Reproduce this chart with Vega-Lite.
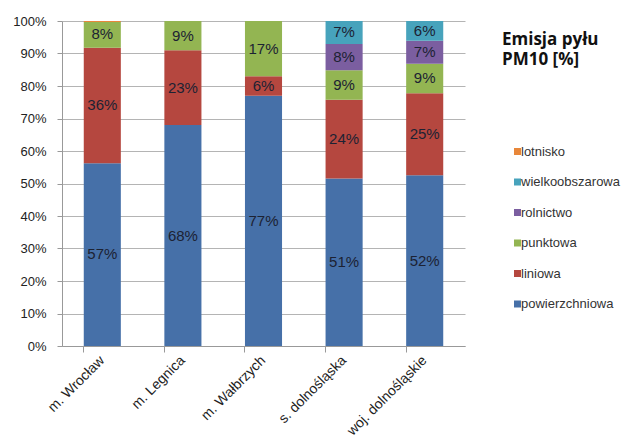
{
  "$schema": "https://vega.github.io/schema/vega-lite/v6.json",
  "autosize": "none",
  "width": 403,
  "height": 325,
  "padding": {"left": 62, "top": 21, "right": 169, "bottom": 94},
  "background": "white",
  "data": {
    "values": [
      {"region": "m. Wrocław", "kategoria": "powierzchniowa", "k": 1, "wartosc": 57},
      {"region": "m. Wrocław", "kategoria": "liniowa", "k": 2, "wartosc": 36},
      {"region": "m. Wrocław", "kategoria": "punktowa", "k": 3, "wartosc": 8},
      {"region": "m. Wrocław", "kategoria": "lotnisko", "k": 6, "wartosc": 0.3},
      {"region": "m. Legnica", "kategoria": "powierzchniowa", "k": 1, "wartosc": 68},
      {"region": "m. Legnica", "kategoria": "liniowa", "k": 2, "wartosc": 23},
      {"region": "m. Legnica", "kategoria": "punktowa", "k": 3, "wartosc": 9},
      {"region": "m. Wałbrzych", "kategoria": "powierzchniowa", "k": 1, "wartosc": 77},
      {"region": "m. Wałbrzych", "kategoria": "liniowa", "k": 2, "wartosc": 6},
      {"region": "m. Wałbrzych", "kategoria": "punktowa", "k": 3, "wartosc": 17},
      {"region": "s. dolnośląska", "kategoria": "powierzchniowa", "k": 1, "wartosc": 51},
      {"region": "s. dolnośląska", "kategoria": "liniowa", "k": 2, "wartosc": 24},
      {"region": "s. dolnośląska", "kategoria": "punktowa", "k": 3, "wartosc": 9},
      {"region": "s. dolnośląska", "kategoria": "rolnictwo", "k": 4, "wartosc": 8},
      {"region": "s. dolnośląska", "kategoria": "wielkoobszarowa", "k": 5, "wartosc": 7},
      {"region": "woj. dolnośląskie", "kategoria": "powierzchniowa", "k": 1, "wartosc": 52},
      {"region": "woj. dolnośląskie", "kategoria": "liniowa", "k": 2, "wartosc": 25},
      {"region": "woj. dolnośląskie", "kategoria": "punktowa", "k": 3, "wartosc": 9},
      {"region": "woj. dolnośląskie", "kategoria": "rolnictwo", "k": 4, "wartosc": 7},
      {"region": "woj. dolnośląskie", "kategoria": "wielkoobszarowa", "k": 5, "wartosc": 6}
    ]
  },
  "config": {
    "font": "Liberation Sans",
    "view": {"stroke": null}
  },
  "encoding": {
    "x": {
      "field": "region",
      "type": "nominal",
      "sort": null,
      "title": null,
      "scale": {"paddingInner": 0.54, "paddingOuter": 0.27},
      "axis": {
        "labelAngle": -45,
        "labelAlign": "right",
        "labelBaseline": "middle",
        "labelFontSize": 14,
        "labelColor": "#222222",
        "labelPadding": 6,
        "bandPosition": 0,
        "tickSize": 6,
        "tickColor": "#999999",
        "domainColor": "#999999",
        "grid": false
      }
    },
    "y": {
      "field": "wartosc",
      "type": "quantitative",
      "stack": "normalize",
      "title": null,
      "axis": {
        "format": ".0%",
        "values": [0, 0.1, 0.2, 0.3, 0.4, 0.5, 0.6, 0.7, 0.8, 0.9, 1],
        "labelOverlap": false,
        "labelFontSize": 13,
        "labelColor": "#222222",
        "labelPadding": 11,
        "tickSize": 5,
        "tickColor": "#999999",
        "domainColor": "#999999",
        "gridColor": "#b4b4b4"
      }
    },
    "order": {"field": "k", "type": "quantitative"}
  },
  "layer": [
    {
      "mark": {"type": "bar"},
      "encoding": {
        "color": {
          "field": "kategoria",
          "type": "nominal",
          "scale": {
            "domain": ["lotnisko", "wielkoobszarowa", "rolnictwo", "punktowa", "liniowa", "powierzchniowa"],
            "range": ["#E8873A", "#47A3BC", "#7B5EA0", "#93B552", "#B5473F", "#4670A8"]
          },
          "legend": {
            "orient": "none",
            "legendX": 440,
            "legendY": 11,
            "title": ["Emisja pyłu", "PM10 [%]"],
            "titleFont": "Open Sans",
            "titleFontSize": 17,
            "titleFontWeight": "bold",
            "titleColor": "#111111",
            "titleLineHeight": 20,
            "titlePadding": 76,
            "symbolType": "square",
            "symbolSize": 49,
            "symbolStrokeWidth": 0,
            "symbolOffset": 9,
            "labelFontSize": 13,
            "labelColor": "#333333",
            "labelOffset": -3,
            "rowPadding": 16.5,
            "padding": 0
          }
        }
      }
    },
    {
      "transform": [
        {"filter": "datum.wartosc >= 1"},
        {"calculate": "datum.wartosc + '%'", "as": "etykieta"}
      ],
      "mark": {"type": "text", "fontSize": 15, "color": "#1c2233", "baseline": "middle"},
      "encoding": {
        "y": {"field": "wartosc", "type": "quantitative", "stack": "normalize", "bandPosition": 0.5},
        "text": {"field": "etykieta", "type": "nominal"},
        "detail": {"field": "kategoria"}
      }
    }
  ]
}
